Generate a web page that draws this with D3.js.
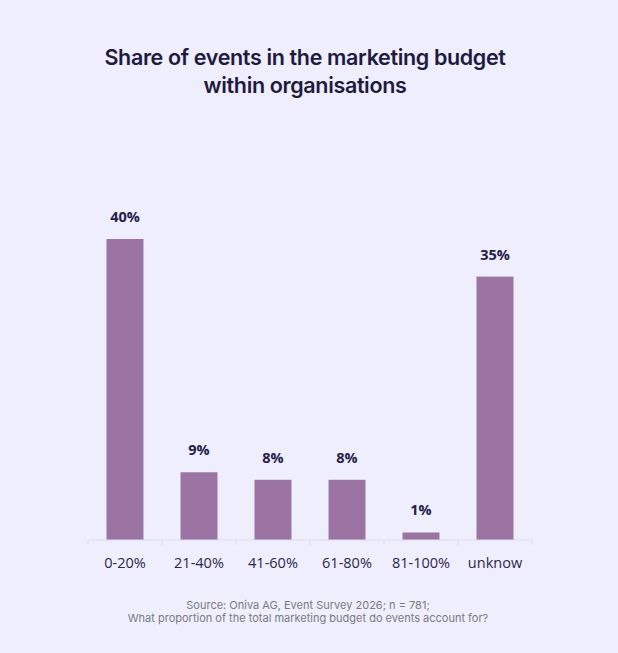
<!DOCTYPE html>
<html>
<head>
<meta charset="utf-8">
<title>Share of events in the marketing budget</title>
<style type="text/css">
	html, body{ margin:0; padding:0; background:#efeefc; }
	.title{ font-family:Inter, sans-serif; font-weight:600; font-size:21.5px; fill:#1e1b40; letter-spacing:-0.35px; }
	.value{ font-family:"Open Sans", sans-serif; font-weight:700; font-size:14.5px; fill:#25214a; }
	.axis text{ font-family:"Open Sans", sans-serif; font-size:14.5px; fill:#2b2750; }
	.axis path, .axis line{ stroke:#dedbef; }
	.note{ font-family:Inter, sans-serif; font-size:11px; fill:#7a7a82; }
</style>
<script src="https://cdn.jsdelivr.net/npm/d3@7"></script>
</head>
<body>
<script type="text/javascript">
	var width = 618, height = 653;

	// data
	var categories = ["0-20%", "21-40%", "41-60%", "61-80%", "81-100%", "unknow"];
	var values = [40, 9, 8, 8, 1, 35];
	var titleLines = ["Share of events in the marketing budget", "within organisations"];
	var noteLines = ["Source: Oniva AG, Event Survey 2026; n = 781;",
		"What proportion of the total marketing budget do events account for?"];

	var svg = d3.select("body").append("svg")
		.attr("width", width)
		.attr("height", height);

	svg.append("rect").attr("width", width).attr("height", height).attr("fill", "#efeefc");

	var x = d3.scaleBand()
		.domain(categories)
		.range([88, 532])
		.paddingInner(0.5)
		.paddingOuter(0.25);

	var y = d3.scaleLinear()
		.domain([0, 40])
		.range([540, 239]);

	// title
	svg.append("g").selectAll("text")
		.data(titleLines)
		.enter().append("text")
		.attr("class", "title")
		.attr("x", 305)
		.attr("y", function(d, i){ return 65 + i * 28; })
		.attr("text-anchor", "middle")
		.text(function(d){ return d; });

	// bars
	svg.append("g").selectAll("rect")
		.data(values)
		.enter().append("rect")
		.attr("x", function(d, i){ return x(categories[i]); })
		.attr("y", function(d){ return y(d); })
		.attr("width", x.bandwidth())
		.attr("height", function(d){ return y(0) - y(d); })
		.attr("fill", "#9b74a4");

	svg.append("g").selectAll("text")
		.data(values)
		.enter().append("text")
		.attr("class", "value")
		.attr("x", function(d, i){ return x(categories[i]) + x.bandwidth() / 2; })
		.attr("y", function(d){ return y(d) - 17; })
		.attr("text-anchor", "middle")
		.text(function(d){ return d + "%"; });

	// x axis, ticks sit on the band edges
	var axis = svg.append("g")
		.attr("class", "axis")
		.attr("transform", "translate(0," + y(0) + ")");

	axis.append("line").attr("x1", 88).attr("x2", 532);

	var step = x.step();
	axis.selectAll(".tick")
		.data(d3.range(categories.length + 1))
		.enter().append("line")
		.attr("class", "tick")
		.attr("x1", function(i){ return 88 + i * step; })
		.attr("x2", function(i){ return 88 + i * step; })
		.attr("y2", 5);

	axis.selectAll("text")
		.data(categories)
		.enter().append("text")
		.attr("x", function(d){ return x(d) + x.bandwidth() / 2; })
		.attr("y", 28)
		.attr("text-anchor", "middle")
		.text(function(d){ return d; });

	// footnote
	svg.append("g").selectAll("text")
		.data(noteLines)
		.enter().append("text")
		.attr("class", "note")
		.attr("x", 308)
		.attr("y", function(d, i){ return 609 + i * 13; })
		.attr("text-anchor", "middle")
		.text(function(d){ return d; });
</script>
</body>
</html>
